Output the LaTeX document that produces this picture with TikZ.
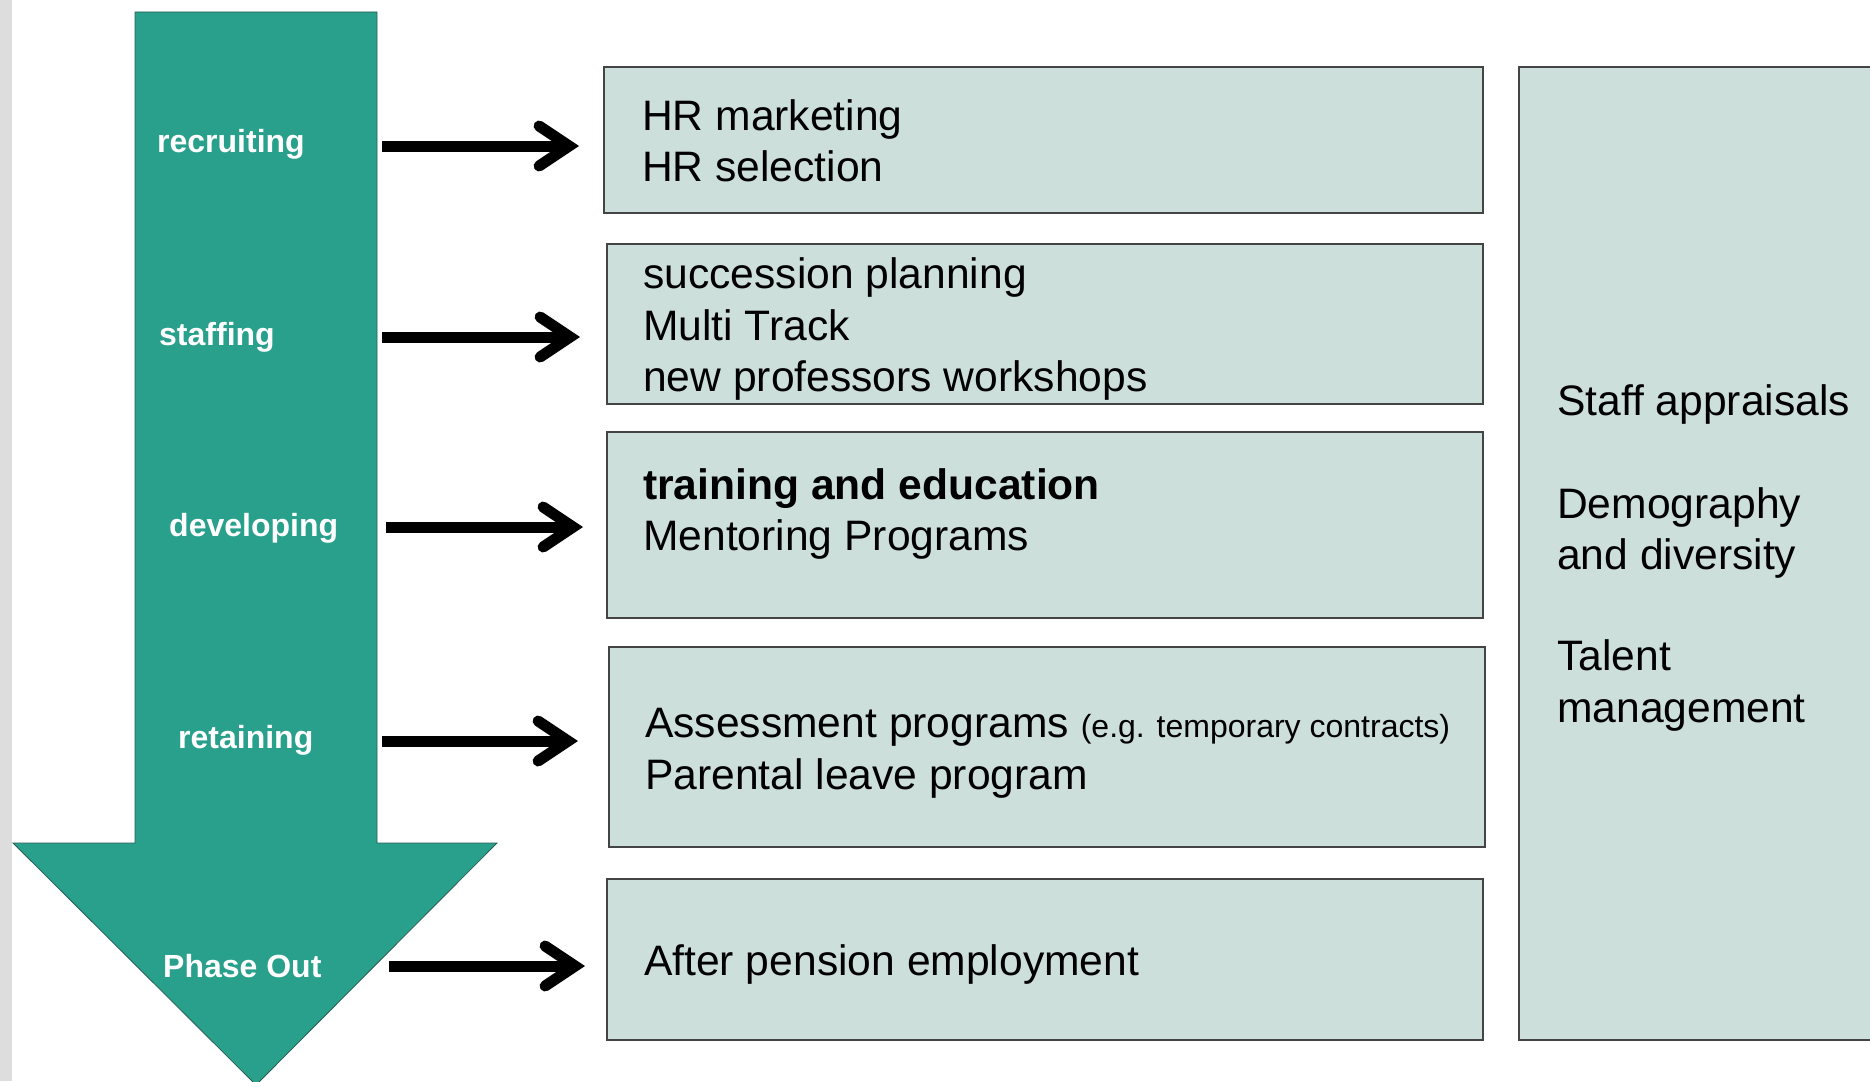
\documentclass[tikz,border=0pt]{standalone}
\usepackage{fontspec}
\setmainfont{Liberation Sans}
\usetikzlibrary{arrows.meta}
\definecolor{tealfill}{RGB}{40,160,140}
\definecolor{tealline}{RGB}{40,95,85}
\definecolor{boxfill}{RGB}{205,223,219}
\definecolor{boxline}{RGB}{68,68,68}
\definecolor{stripgray}{RGB}{221,221,221}
\begin{document}
\begin{tikzpicture}[x=1pt,y=-1pt,
  box/.style={draw=boxline, line width=2.2pt, fill=boxfill, inner sep=0pt, anchor=north west},
  lab/.style={text=white, font=\fontsize{32}{38}\selectfont\bfseries, anchor=base west, inner sep=0pt},
  txt/.style={font=\fontsize{42.6}{51}\selectfont, anchor=base west, inner sep=0pt},
  conn/.style={line width=11pt, -{Straight Barb[length=30pt,width=40pt,line cap=round,line join=miter]}}]
\clip (0,0) rectangle (1870,1081);
\fill[white] (0,0) rectangle (1870,1081);
\fill[stripgray] (0,0) rectangle (12,1081);
% big down arrow
\path[fill=tealfill, draw=tealline, line width=0.8pt]
  (135,12) -- (377,12) -- (377,843) -- (497,843) -- (256,1085) -- (13,843) -- (135,843) -- cycle;
% phase labels
\node[lab] (l1) at (157,152) {recruiting};
\node[lab] (l2) at (159,345) {staffing};
\node[lab] (l3) at (169,536) {developing};
\node[lab] (l4) at (178,748) {retaining};
\node[lab] (l5) at (163,977) {Phase Out};
% boxes
\node[box, minimum width=879pt, minimum height=146pt] (b1) at (603,66) {};
\node[box, minimum width=876pt, minimum height=160pt] (b2) at (606,243) {};
\node[box, minimum width=876pt, minimum height=186pt] (b3) at (606,431) {};
\node[box, minimum width=876pt, minimum height=200pt] (b4) at (608,646) {};
\node[box, minimum width=876pt, minimum height=161pt] (b5) at (606,878) {};
\node[box, minimum width=400pt, minimum height=973pt] (r) at (1518,66) {};
% box texts
\node[txt] (t11) at (642,130) {HR marketing};
\node[txt] (t12) at (642,181) {HR selection};
\node[txt] (t21) at (643,288) {succession planning};
\node[txt] (t22) at (643,340) {Multi Track};
\node[txt] (t23) at (643,391) {new professors workshops};
\node[txt, font=\fontsize{42.6}{51}\selectfont\bfseries] (t31) at (643,499) {training and education};
\node[txt] (t32) at (643,550) {Mentoring Programs};
\node[txt] (t41) at (645,737) {Assessment programs {\fontsize{32}{36}\selectfont (e.g. temporary contracts)}};
\node[txt] (t42) at (645,789) {Parental leave program};
\node[txt] (t51) at (644,975) {After pension employment};
\node[txt] (r1) at (1557,415) {Staff appraisals};
\node[txt] (r2) at (1557,518) {Demography};
\node[txt] (r3) at (1557,569) {and diversity};
\node[txt] (r4) at (1557,670) {Talent};
\node[txt] (r5) at (1557,722) {management};
% connectors
\coordinate (s1) at (382,146);
\coordinate (s2) at (382,337);
\coordinate (s3) at (386,527);
\coordinate (s4) at (382,741);
\coordinate (s5) at (389,966);
\draw[conn, shorten >=24pt] (s1) -- (s1 -| b1.west);
\draw[conn, shorten >=26pt] (s2) -- (s2 -| b2.west);
\draw[conn, shorten >=23pt] (s3) -- (s3 -| b3.west);
\draw[conn, shorten >=30pt] (s4) -- (s4 -| b4.west);
\draw[conn, shorten >=21pt] (s5) -- (s5 -| b5.west);
\end{tikzpicture}
\end{document}
